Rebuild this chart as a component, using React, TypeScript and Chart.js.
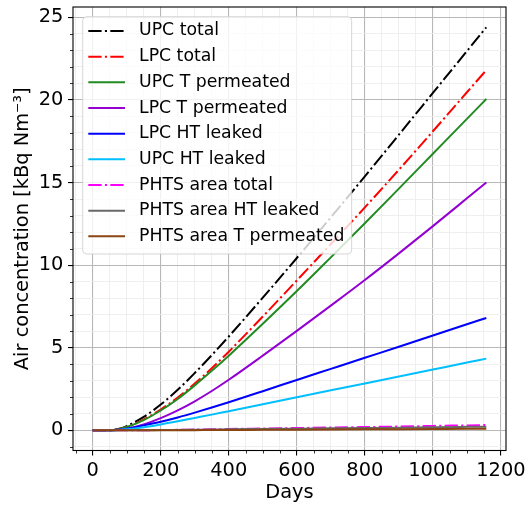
import React, { useEffect, useRef } from 'react';
import { Chart, registerables } from 'chart.js';

Chart.register(...registerables);

// Time axis (days) shared by every series
const days = [0, 50, 75, 100, 150, 200, 250, 300, 350, 400, 500, 600, 700, 800, 900, 1000, 1100, 1157];

// Air concentration, kBq/Nm3
const upcTotal = [0, 0, 0.08, 0.26, 0.81, 1.56, 2.45, 3.47, 4.55, 5.68, 8.03, 10.43, 12.89, 15.37, 17.89, 20.42, 22.95, 24.39];
const lpcTotal = [0, 0, 0.06, 0.2, 0.66, 1.26, 1.99, 2.83, 3.76, 4.76, 6.89, 9.07, 11.27, 13.49, 15.77, 18.1, 20.46, 21.8];
const upcTPermeated = [0, 0, 0.06, 0.2, 0.62, 1.2, 1.9, 2.72, 3.6, 4.52, 6.45, 8.43, 10.47, 12.53, 14.63, 16.74, 18.85, 20.05];
const lpcTPermeated = [0, 0, 0.03, 0.1, 0.36, 0.74, 1.21, 1.76, 2.38, 3.06, 4.52, 6.02, 7.55, 9.1, 10.71, 12.36, 14.04, 15.0];
const lpcHTLeaked = [0, 0, 0.03, 0.1, 0.3, 0.52, 0.78, 1.07, 1.38, 1.7, 2.37, 3.05, 3.72, 4.39, 5.06, 5.74, 6.42, 6.8];
const upcHTLeaked = [0, 0, 0.02, 0.06, 0.19, 0.36, 0.55, 0.75, 0.95, 1.16, 1.58, 2.0, 2.42, 2.84, 3.26, 3.68, 4.1, 4.34];
const phtsTotal = [0, 0, 0, 0.002, 0.008, 0.02, 0.03, 0.045, 0.06, 0.08, 0.11, 0.14, 0.17, 0.2, 0.23, 0.27, 0.3, 0.32];
const phtsHTLeaked = [0, 0, 0, 0.002, 0.006, 0.015, 0.022, 0.033, 0.044, 0.06, 0.08, 0.1, 0.12, 0.14, 0.16, 0.19, 0.21, 0.22];
const phtsTPermeated = [0, 0, 0, 0, 0.002, 0.005, 0.008, 0.012, 0.016, 0.02, 0.03, 0.04, 0.05, 0.06, 0.07, 0.08, 0.09, 0.1];

const FONT = "'DejaVu Sans', sans-serif";
const DASH_DOT = [13.3, 3.3, 2.1, 3.3];

const series = [
  { label: 'UPC total', values: upcTotal, color: '#000000', dash: DASH_DOT },
  { label: 'LPC total', values: lpcTotal, color: '#ff0000', dash: DASH_DOT },
  { label: 'UPC T permeated', values: upcTPermeated, color: '#228b22', dash: [] },
  { label: 'LPC T permeated', values: lpcTPermeated, color: '#9400d3', dash: [] },
  { label: 'LPC HT leaked', values: lpcHTLeaked, color: '#0000ff', dash: [] },
  { label: 'UPC HT leaked', values: upcHTLeaked, color: '#00bfff', dash: [] },
  { label: 'PHTS area total', values: phtsTotal, color: '#ff00ff', dash: DASH_DOT },
  { label: 'PHTS area HT leaked', values: phtsHTLeaked, color: '#696969', dash: [] },
  { label: 'PHTS area T permeated', values: phtsTPermeated, color: '#8b4513', dash: [] },
];

const isMultiple = (v: number, step: number) => Math.abs(v / step - Math.round(v / step)) < 1e-6;

// Outer frame plus short minor tick marks
const framePlugin = {
  id: 'frame',
  afterDatasetsDraw(chart: any) {
    const { ctx, chartArea, scales } = chart;
    ctx.save();
    ctx.strokeStyle = '#000';
    ctx.lineWidth = 0.8;
    scales.x.ticks.forEach((t: any) => {
      if (isMultiple(t.value, 200)) return;
      const px = Math.round(scales.x.getPixelForValue(t.value)) + 0.5;
      ctx.beginPath();
      ctx.moveTo(px, chartArea.bottom);
      ctx.lineTo(px, chartArea.bottom + 3);
      ctx.stroke();
    });
    scales.y.ticks.forEach((t: any) => {
      if (isMultiple(t.value, 5)) return;
      const py = Math.round(scales.y.getPixelForValue(t.value)) + 0.5;
      ctx.beginPath();
      ctx.moveTo(chartArea.left - 3, py);
      ctx.lineTo(chartArea.left, py);
      ctx.stroke();
    });
    ctx.lineWidth = 1.1;
    ctx.strokeRect(
      chartArea.left,
      chartArea.top,
      chartArea.right - chartArea.left,
      chartArea.bottom - chartArea.top
    );
    ctx.restore();
  },
};

// Boxed legend drawn above the data lines
const legendPlugin = {
  id: 'legendBox',
  afterDraw(chart: any) {
    const { ctx, chartArea } = chart;
    const datasets = chart.data.datasets;
    ctx.save();
    ctx.font = `17.3px ${FONT}`;
    const textW = Math.max(...datasets.map((d: any) => ctx.measureText(d.label).width));
    const x0 = chartArea.left + 9.7;
    const y0 = chartArea.top + 9.7;
    const rowH = 25.67;
    const lineX0 = x0 + 5.6;
    const lineX1 = x0 + 42.3;
    const textX = x0 + 56.3;
    const w = textX - x0 + textW + 7.3;
    const h = 237.3;
    ctx.beginPath();
    ctx.roundRect(x0, y0, w, h, 4);
    ctx.fillStyle = 'rgba(255,255,255,0.8)';
    ctx.fill();
    ctx.strokeStyle = 'rgba(204,204,204,0.8)';
    ctx.lineWidth = 1;
    ctx.stroke();
    datasets.forEach((d: any, i: number) => {
      const cy = y0 + 14.3 + i * rowH;
      ctx.beginPath();
      ctx.setLineDash(d.borderDash || []);
      ctx.strokeStyle = d.borderColor;
      ctx.lineWidth = 2;
      ctx.moveTo(lineX0, cy);
      ctx.lineTo(lineX1, cy);
      ctx.stroke();
      ctx.setLineDash([]);
      ctx.fillStyle = '#000';
      ctx.textBaseline = 'middle';
      ctx.textAlign = 'left';
      ctx.fillText(d.label, textX, cy);
    });
    ctx.restore();
  },
};

const tickFont = { family: FONT, size: 19.4 };

export default function App() {
  const canvasRef = useRef<HTMLCanvasElement>(null);

  useEffect(() => {
    const canvas = canvasRef.current;
    if (!canvas) return;
    const n = series.length;
    const chart = new Chart(canvas, {
      type: 'line',
      data: {
        datasets: series.map((s, i) => ({
          label: s.label,
          data: days.map((d, j) => ({ x: d, y: s.values[j] })),
          borderColor: s.color,
          backgroundColor: s.color,
          borderWidth: 2,
          borderDash: s.dash,
          pointRadius: 0,
          fill: false,
          cubicInterpolationMode: 'monotone',
          order: n - i,
        })),
      },
      options: {
        responsive: false,
        animation: false,
        devicePixelRatio: 1,
        layout: { padding: { top: 7, right: 20, left: 0, bottom: 0 } },
        plugins: { legend: { display: false }, tooltip: { enabled: false } },
        scales: {
          x: {
            type: 'linear',
            min: -57.85,
            max: 1214.85,
            ticks: {
              stepSize: 50,
              autoSkip: false,
              maxRotation: 0,
              minRotation: 0,
              includeBounds: false,
              padding: 4,
              color: '#000',
              font: tickFont,
              callback: (v: any) => (isMultiple(Number(v), 200) ? String(v) : ''),
            },
            grid: {
              color: (c: any) => (isMultiple(c.tick.value, 200) ? '#b8b8b8' : '#ebebeb'),
              lineWidth: (c: any) => (isMultiple(c.tick.value, 200) ? 1.1 : 0.8),
              tickLength: 5,
              tickWidth: 1.1,
              tickColor: (c: any) => (isMultiple(c.tick.value, 200) ? '#000' : 'rgba(0,0,0,0)'),
            },
            border: { display: false },
            title: {
              display: true,
              text: 'Days',
              color: '#000',
              font: tickFont,
              padding: { top: 0, bottom: 2.8 },
            },
            afterFit: (s: any) => {
              s.height = 56.5;
              s.paddingLeft = 0;
              s.paddingRight = 0;
              s.paddingTop = 0;
              s.paddingBottom = 0;
            },
          },
          y: {
            type: 'linear',
            min: -1.22,
            max: 25.62,
            ticks: {
              stepSize: 1,
              autoSkip: false,
              includeBounds: false,
              padding: 4.7,
              color: '#000',
              font: tickFont,
              callback: (v: any) => (isMultiple(Number(v), 5) ? String(v) : ''),
            },
            grid: {
              color: (c: any) => (isMultiple(c.tick.value, 5) ? '#b8b8b8' : '#ebebeb'),
              lineWidth: (c: any) => (isMultiple(c.tick.value, 5) ? 1.1 : 0.8),
              tickLength: 5,
              tickWidth: 1.1,
              tickColor: (c: any) => (isMultiple(c.tick.value, 5) ? '#000' : 'rgba(0,0,0,0)'),
            },
            border: { display: false },
            title: {
              display: true,
              text: 'Air concentration [kBq Nm\u207B\u00B3]',
              color: '#000',
              font: tickFont,
              padding: { top: 11.4, bottom: 0 },
            },
            afterFit: (s: any) => {
              s.width = 73;
              s.paddingLeft = 0;
              s.paddingRight = 0;
              s.paddingTop = 0;
              s.paddingBottom = 0;
            },
          },
        },
      },
      plugins: [framePlugin, legendPlugin],
    } as any);
    return () => chart.destroy();
  }, []);

  return (
    <div style={{ position: 'fixed', left: 0, top: 0, width: 526, height: 507, background: '#fff' }}>
      <canvas ref={canvasRef} width={526} height={507} />
    </div>
  );
}
